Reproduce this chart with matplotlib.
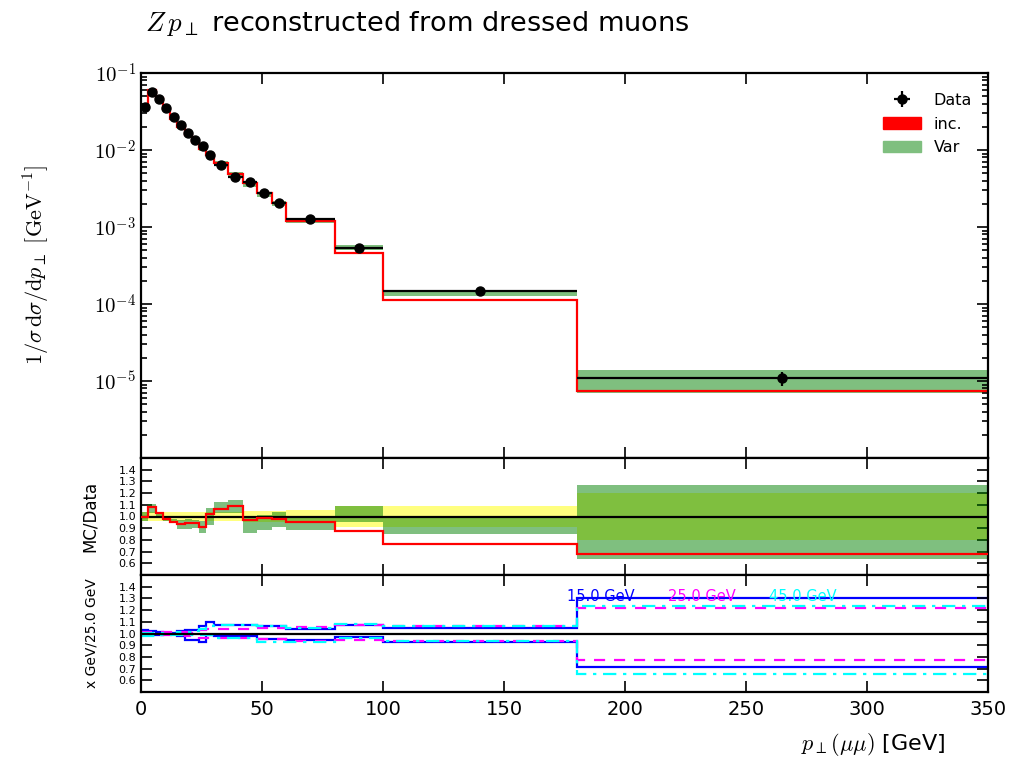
import numpy as np
import matplotlib
matplotlib.use("Agg")
import matplotlib.pyplot as plt
from matplotlib.patches import Patch
from matplotlib.ticker import LogLocator, FuncFormatter, MultipleLocator, NullFormatter

plt.rcParams["mathtext.fontset"] = "cm"
plt.rcParams["font.family"] = ["DejaVu Sans"]

# Binning in pT(mumu) [GeV]
bin_edges = [0, 3, 6, 9, 12, 15, 18, 21, 24, 27, 30, 36, 42, 48, 54, 60, 80, 100, 180, 350]

# Measured normalised cross-section and relative uncertainty
data_vals = [0.0359, 0.0561, 0.0455, 0.0348, 0.0268, 0.0213, 0.0168, 0.0134, 0.0112,
             0.00853, 0.00638, 0.0045, 0.00384, 0.00279, 0.00207, 0.00127, 0.000528,
             0.0001476, 1.09e-5]
data_relerr = [0.035, 0.035, 0.035, 0.035, 0.035, 0.035, 0.035, 0.035, 0.035, 0.035,
               0.04, 0.04, 0.05, 0.05, 0.05, 0.057, 0.086, 0.086, 0.2]

# Prediction "inc."
inc_vals = [0.0359, 0.0606, 0.0469, 0.0340, 0.0255, 0.0200, 0.0158, 0.0127, 0.01024,
            0.0087, 0.00678, 0.00491, 0.00371, 0.00276, 0.00203, 0.00121, 0.000461,
            0.000113, 7.41e-6]

# Variation envelope "Var"
var_lo = [0.0345, 0.0578, 0.0455, 0.0334, 0.0252, 0.0190, 0.0150, 0.0121, 0.00963,
          0.00793, 0.00657, 0.00464, 0.00330, 0.00248, 0.00188, 0.001125, 0.000502,
          0.0001255, 6.98e-6]
var_hi = [0.0373, 0.0623, 0.0473, 0.0348, 0.0263, 0.0207, 0.0165, 0.0130, 0.01075,
          0.00913, 0.00715, 0.00513, 0.00384, 0.00282, 0.00215, 0.00127, 0.000576,
          0.0001476, 1.384e-5]

# Envelope ratios of each cut value with respect to 25 GeV
cut_labels = ["15.0 GeV", "25.0 GeV", "45.0 GeV"]
r15_hi = [1.026, 1.02, 1.01, 1.005, 1.005, 1.02, 1.026, 1.026, 1.064, 1.10,
          1.07, 1.07, 1.07, 1.06, 1.06, 1.04, 1.072, 1.043, 1.303]
r15_lo = [0.99, 0.99, 0.99, 1.0, 0.995, 0.977, 0.948, 0.948, 0.93, 0.99,
          0.975, 0.975, 0.975, 0.955, 0.955, 0.942, 0.968, 0.93, 0.717]
r25_hi = [1.015, 1.015, 1.01, 1.01, 1.01, 1.01, 1.015, 1.02, 1.03, 1.04,
          1.04, 1.04, 1.04, 1.05, 1.05, 1.055, 1.072, 1.064, 1.217]
r25_lo = [0.985, 0.985, 0.99, 0.99, 0.99, 0.985, 0.98, 0.975, 0.96, 0.96,
          0.96, 0.96, 0.96, 0.95, 0.95, 0.94, 0.942, 0.935, 0.777]
r45_hi = [1.005, 1.005, 1.005, 1.0, 1.0, 1.01, 1.015, 1.02, 1.04, 1.06,
          1.075, 1.075, 1.075, 1.06, 1.06, 1.05, 1.084, 1.064, 1.231]
r45_lo = [0.98, 0.98, 0.985, 0.99, 0.99, 0.99, 0.99, 0.99, 0.99, 0.99,
          0.96, 0.96, 0.96, 0.93, 0.93, 0.928, 0.962, 0.94, 0.656]

edges = np.array(bin_edges, dtype=float)
d = np.array(data_vals)
derr = d * np.array(data_relerr)
inc = np.array(inc_vals)
vlo = np.array(var_lo)
vhi = np.array(var_hi)
centers = 0.5 * (edges[1:] + edges[:-1])
halfw = 0.5 * (edges[1:] - edges[:-1])

fig = plt.figure(figsize=(10.19, 7.57), dpi=100)
L, W = 141 / 1019, 847 / 1019
ax_main = fig.add_axes([L, 1 - 458 / 757, W, 385 / 757])
ax_rat = fig.add_axes([L, 1 - 575 / 757, W, 117 / 757], sharex=ax_main)
ax_cut = fig.add_axes([L, 1 - 692 / 757, W, 117 / 757], sharex=ax_main)

green = "#7fbf7f"

# --- main panel ---
ax_main.stairs(vhi, edges, baseline=vlo, fill=True, color=green, lw=0, zorder=1)
ax_main.stairs(inc, edges, baseline=None, color="red", lw=1.6, zorder=2)
eb = ax_main.errorbar(centers, d, xerr=halfw, yerr=derr, fmt="o", color="black",
                      ms=6.5, lw=1.6, capsize=0, zorder=3)
ax_main.set_yscale("log")
ax_main.set_ylim(1e-6, 1e-1)
ax_main.set_xlim(0, 350)


def log_fmt(v, pos):
    e = int(round(np.log10(v)))
    if e <= -6:
        return ""
    return r"$10^{%d}$" % e


ax_main.yaxis.set_major_locator(LogLocator(base=10, numticks=10))
ax_main.yaxis.set_major_formatter(FuncFormatter(log_fmt))
ax_main.yaxis.set_minor_locator(LogLocator(base=10, subs=np.arange(2, 10), numticks=20))
ax_main.yaxis.set_minor_formatter(NullFormatter())
ax_main.tick_params(axis="y", labelsize=15)
ax_main.set_ylabel(r"$1/\sigma\,\mathrm{d}\sigma/\mathrm{d}p_\perp\ [\mathrm{GeV}^{-1}]$",
                   fontsize=16)
ax_main.yaxis.set_label_coords(-0.105, 0.5)
ax_main.set_title(r"$Z\,p_\perp$ reconstructed from dressed muons", loc="left",
                  fontsize=19.5, pad=30, x=0.005)

ax_main.legend([eb, Patch(color="red"), Patch(color=green)], ["Data", "inc.", "Var"],
               loc="upper right", frameon=False, fontsize=11.5, handlelength=2.4,
               borderaxespad=0.6, labelspacing=0.55, bbox_to_anchor=(1.0, 0.99))

# --- MC/Data panel ---
ones = np.ones_like(d)
ax_rat.stairs(ones + np.array(data_relerr), edges, baseline=ones - np.array(data_relerr),
              fill=True, color="yellow", alpha=0.5, lw=0, zorder=1)
ax_rat.stairs(vhi / d, edges, baseline=vlo / d, fill=True, color="green", alpha=0.5,
              lw=0, zorder=2)
ax_rat.axhline(1.0, color="black", lw=1.6, zorder=3)
ax_rat.stairs(inc / d, edges, baseline=None, color="red", lw=1.6, zorder=4)
ax_rat.set_ylim(0.5, 1.5)
ax_rat.set_ylabel("MC/Data", fontsize=12)
ax_rat.yaxis.set_label_coords(-0.05, 0.5)

# --- cut comparison panel ---
styles = [("blue", "-", r15_hi, r15_lo), ("magenta", (0, (5, 4)), r25_hi, r25_lo),
          ("cyan", (0, (6, 3, 1.5, 3)), r45_hi, r45_lo)]
for col, ls, hi, lo in styles:
    ax_cut.stairs(np.array(hi), edges, baseline=None, color=col, ls=ls, lw=1.6)
    ax_cut.stairs(np.array(lo), edges, baseline=None, color=col, ls=ls, lw=1.6)
ax_cut.axhline(1.0, color="black", lw=1.6)
ax_cut.set_ylim(0.5, 1.5)
for xf, lab, col in zip([0.503, 0.622, 0.741], cut_labels, ["blue", "magenta", "cyan"]):
    ax_cut.text(xf, 0.815, lab, color=col, fontsize=10.5, transform=ax_cut.transAxes,
                ha="left", va="center")
ax_cut.set_ylabel("x GeV/25.0 GeV", fontsize=10)
ax_cut.yaxis.set_label_coords(-0.05, 0.5)
ax_cut.set_xlabel(r"$p_\perp(\mu\mu)$ [GeV]", fontsize=16)
ax_cut.xaxis.set_label_coords(0.95, -0.33)
ax_cut.xaxis.label.set_horizontalalignment("right")

for ax in (ax_rat, ax_cut):
    ax.yaxis.set_major_locator(MultipleLocator(0.1))
    ax.yaxis.set_major_formatter(FuncFormatter(
        lambda v, p: "%.1f" % v if 0.55 < v < 1.45 else ""))
    ax.tick_params(axis="y", labelsize=8)

ax_main.xaxis.set_major_locator(MultipleLocator(50))
for ax in (ax_main, ax_rat, ax_cut):
    ax.tick_params(which="both", direction="in", top=True, right=True, width=1.2)
    ax.tick_params(which="major", length=8)
    ax.tick_params(which="minor", length=4)
    for s in ax.spines.values():
        s.set_linewidth(1.6)
for ax in (ax_main, ax_rat):
    plt.setp(ax.get_xticklabels(), visible=False)
ax_cut.tick_params(axis="x", labelsize=14, pad=6)

fig.savefig("out.png", dpi=100)
